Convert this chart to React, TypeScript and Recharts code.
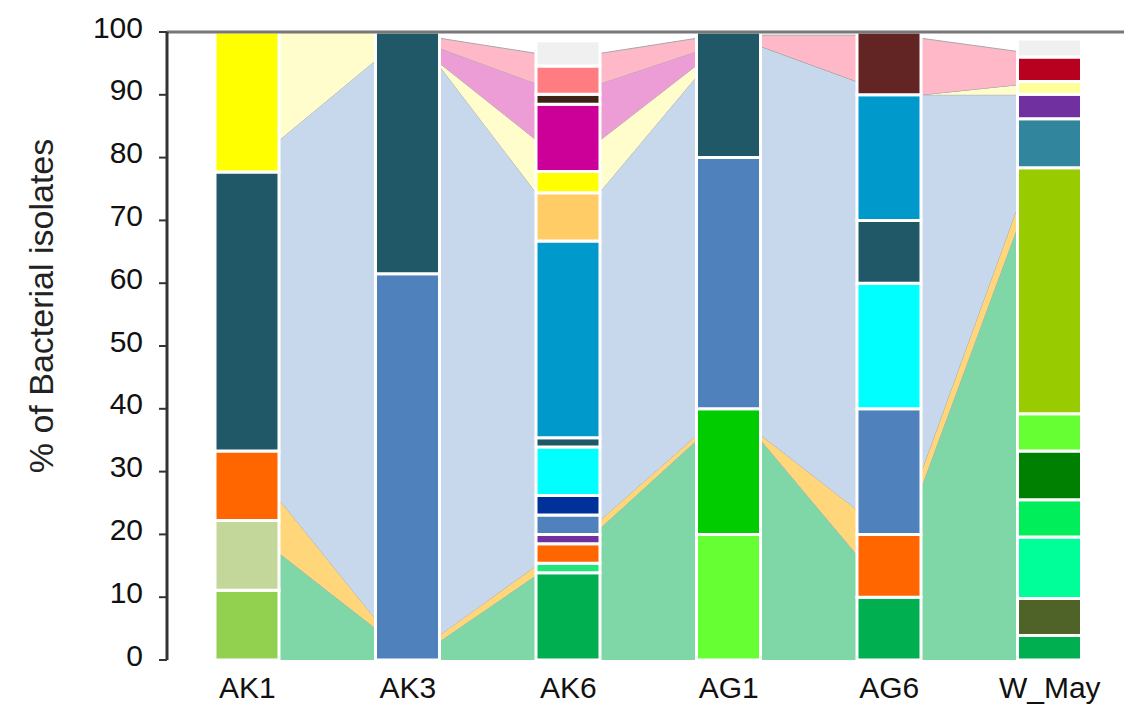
import React from 'react';
import { ComposedChart, Bar, Area, XAxis, YAxis, Cell, ReferenceLine } from 'recharts';

const categories = ['AK1', 'AK3', 'AK6', 'AG1', 'AG6', 'W_May'];
const yTicks = [0, 10, 20, 30, 40, 50, 60, 70, 80, 90, 100];

// Bar segments, bottom -> top (% of isolates)
const ak1Values = [11.1, 11.1, 11.1, 44.4, 22.3];
const ak1Colors = ['#92D050', '#C4D79B', '#FF6600', '#215868', '#FFFF00'];

const ak3Values = [61.5, 38.5];
const ak3Colors = ['#4F81BD', '#215868'];

const ak6Values = [13.9, 1.5, 3.1, 1.5, 3.1, 3.1, 7.7, 1.5, 31.3, 7.7, 3.4, 10.7, 1.6, 4.5, 4.0];
const ak6Colors = ['#00B050', '#1EE678', '#FF6600', '#7030A0', '#4F81BD', '#00309A', '#00FFFF', '#215868', '#0099CC', '#FFCC66', '#FFFF00', '#CC0099', '#3F2216', '#FF7C80', '#F0F0F0'];

const ag1Values = [20, 20, 40, 20];
const ag1Colors = ['#66FF33', '#00CC00', '#4F81BD', '#215868'];

const ag6Values = [10, 10, 20, 20, 10, 20, 10];
const ag6Colors = ['#00B050', '#FF6600', '#4F81BD', '#00FFFF', '#215868', '#0099CC', '#632523'];

const wMayValues = [3.9, 5.9, 9.8, 5.9, 7.8, 5.9, 39.2, 7.8, 3.9, 2.0, 3.9, 2.9];
const wMayColors = ['#00B050', '#4F6228', '#00FF99', '#00EE5A', '#008000', '#66FF33', '#99CC00', '#31859C', '#7030A0', '#FFFF99', '#B8001F', '#F0F0F0'];

// Background flows, values at bar edges:
// [AK1 right, AK3 left, AK3 right, AK6 left, AK6 right, AG1 left, AG1 right, AG6 left, AG6 right, W_May left]
const flowGreen = [17.0, 5.0, 3.0, 13.5, 21.0, 35.0, 35.0, 16.7, 27.5, 69.0];
const flowOrange = [8.5, 1.5, 1.0, 1.5, 1.3, 0.8, 0.8, 7.2, 2.5, 3.2];
const flowBlue = [57.3, 89.0, 90.5, 59.4, 52.3, 57.1, 61.9, 68.2, 60.0, 17.8];
const flowYellow = [17.2, 4.5, 0.5, 8.4, 8.2, 1.8, 0, 0, 0, 1.6];
const flowOrchid = [0, 0, 2.4, 9.0, 9.0, 2.2, 0, 0, 0, 0];
const flowPink = [0, 0, 1.6, 4.8, 4.8, 2.1, 1.8, 7.4, 9.0, 5.3];

const samples = [
  { values: ak1Values, colors: ak1Colors },
  { values: ak3Values, colors: ak3Colors },
  { values: ak6Values, colors: ak6Colors },
  { values: ag1Values, colors: ag1Colors },
  { values: ag6Values, colors: ag6Colors },
  { values: wMayValues, colors: wMayColors },
];

const flows = [
  { key: 'fGreen', values: flowGreen, color: '#7FD6A7' },
  { key: 'fOrange', values: flowOrange, color: '#FFD77A' },
  { key: 'fBlue', values: flowBlue, color: '#C8D8EC' },
  { key: 'fYellow', values: flowYellow, color: '#FFFDCC' },
  { key: 'fOrchid', values: flowOrchid, color: '#EC9DD6' },
  { key: 'fPink', values: flowPink, color: '#FFB8C7' },
];

const FONT = '"Liberation Sans", Arial, Helvetica, sans-serif';
const CHART_W = 1124;
const CHART_H = 700;
const Y_AXIS_W = 159;
const X_LABEL_H = 40;
const MARGIN = { top: 24, right: 2, bottom: 8, left: 0 };
const FLOW_MARGIN = {
  top: MARGIN.top,
  right: MARGIN.right,
  bottom: MARGIN.bottom + X_LABEL_H,
  left: MARGIN.left + Y_AXIS_W,
};
const BAR_HALF = 0.2; // half bar width in category units
const plotW = CHART_W - MARGIN.left - MARGIN.right - Y_AXIS_W;
const BAR_PX = Math.round((2 * BAR_HALF * plotW) / categories.length);
const maxSegments = Math.max(...samples.map((s) => s.values.length));

// Flow table: one row per bar edge (right edge of bar i, left edge of bar i+1)
const flowRows: any[] = [];
for (let i = 0; i < categories.length - 1; i++) {
  [[2 * i, i + BAR_HALF], [2 * i + 1, i + 1 - BAR_HALF]].forEach(([edge, x]) => {
    const row: any = { x };
    flows.forEach((f) => {
      row[f.key] = f.values[edge];
    });
    flowRows.push(row);
  });
}

// Bar table: one row per sample
const barRows = samples.map((s, i) => {
  const row: any = { name: categories[i], idx: i };
  s.values.forEach((v, k) => {
    row['s' + k] = v;
  });
  return row;
});

const segKeys = Array.from({ length: maxSegments }, (_, k) => 's' + k);
const boundaryTicks = [-0.5, 0.5, 1.5, 2.5, 3.5, 4.5, 5.5];

const YLabel = (props: any) => {
  const vb = props.viewBox || {};
  const cx = vb.x + 33;
  const cy = vb.y + vb.height / 2 - 40;
  return (
    <text
      x={cx}
      y={cy}
      transform={`rotate(-90 ${cx} ${cy})`}
      textAnchor="middle"
      dominantBaseline="central"
      fontSize={34}
      fill="#222"
      fontFamily={FONT}
    >
      % of Bacterial isolates
    </text>
  );
};

const YTick = (props: any) => {
  const { x, y, payload } = props;
  return (
    <text
      x={x}
      y={y - 5}
      textAnchor="end"
      dominantBaseline="central"
      fontSize={30}
      fill="#111"
      fontFamily={FONT}
    >
      {payload.value}
    </text>
  );
};

export default function App() {
  return (
    <div style={{ position: 'relative', width: CHART_W, height: CHART_H, fontFamily: FONT, background: '#fff' }}>
      <div style={{ position: 'absolute', left: 0, top: 0 }}>
        <ComposedChart width={CHART_W} height={CHART_H} data={flowRows} margin={FLOW_MARGIN}>
          <XAxis type="number" dataKey="x" domain={[-0.5, 5.5]} allowDataOverflow hide />
          <YAxis type="number" domain={[0, 100]} allowDataOverflow hide />
          {flows.map((f) => (
            <Area
              key={f.key}
              type="linear"
              dataKey={f.key}
              stackId="flows"
              fill={f.color}
              fillOpacity={1}
              stroke="#A8A8A8"
              strokeWidth={1}
              dot={false}
              activeDot={false}
              isAnimationActive={false}
            />
          ))}
        </ComposedChart>
      </div>
      <div style={{ position: 'absolute', left: 0, top: 0 }}>
        <ComposedChart width={CHART_W} height={CHART_H} data={barRows} margin={MARGIN}>
          <XAxis
            xAxisId="tk"
            type="number"
            dataKey="idx"
            domain={[-0.5, 5.5]}
            allowDataOverflow
            ticks={boundaryTicks}
            tick={false}
            tickSize={8}
            height={0}
            axisLine={{ stroke: '#222', strokeWidth: 3 }}
            tickLine={{ stroke: '#222', strokeWidth: 2 }}
          />
          <XAxis
            xAxisId="lab"
            type="category"
            dataKey="name"
            interval={0}
            axisLine={false}
            tickLine={false}
            tickSize={0}
            tickMargin={17}
            height={X_LABEL_H}
            tick={{ fontSize: 30, fill: '#111', fontFamily: FONT }}
          />
          <YAxis
            type="number"
            domain={[0, 100]}
            ticks={yTicks}
            interval={0}
            width={Y_AXIS_W}
            tickSize={8}
            tickMargin={16}
            axisLine={{ stroke: '#333', strokeWidth: 3 }}
            tickLine={{ stroke: '#333', strokeWidth: 2 }}
            tick={<YTick />}
            label={{ content: YLabel }}
          />
          {segKeys.map((k, idx) => (
            <Bar
              key={k}
              xAxisId="lab"
              dataKey={k}
              stackId="bars"
              barSize={BAR_PX}
              stroke="#FFFFFF"
              strokeWidth={3}
              isAnimationActive={false}
            >
              {barRows.map((r, ri) => (
                <Cell key={ri} fill={samples[ri].colors[idx] ?? '#ffffff'} />
              ))}
            </Bar>
          ))}
          <ReferenceLine xAxisId="lab" y={100} stroke="#777" strokeWidth={3} />
        </ComposedChart>
      </div>
    </div>
  );
}
